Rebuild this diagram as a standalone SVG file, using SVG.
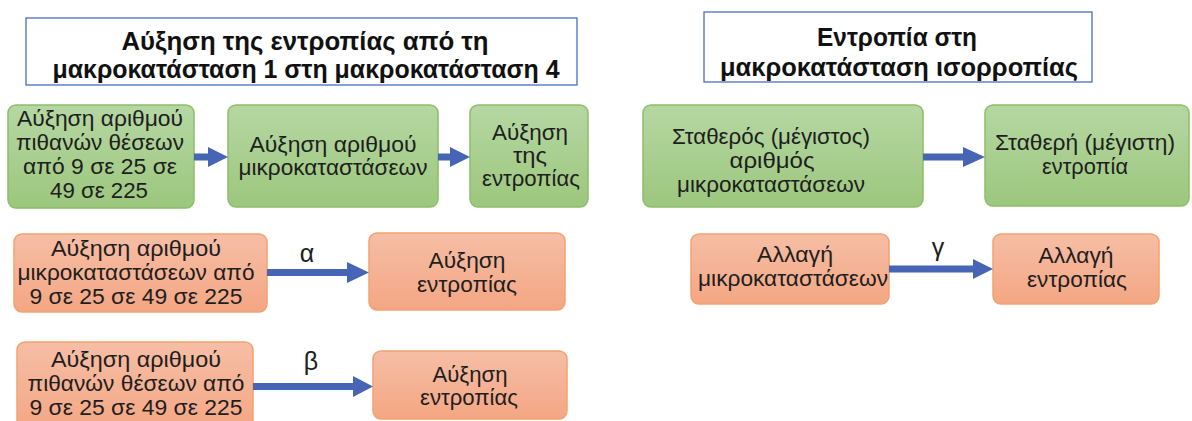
<svg xmlns="http://www.w3.org/2000/svg" width="1192" height="421" viewBox="0 0 1192 421">
<defs>
<linearGradient id="gG" x1="0" y1="0" x2="0" y2="1"><stop offset="0" stop-color="#b6d7a3"/><stop offset="1" stop-color="#9cc77d"/></linearGradient>
<linearGradient id="gO" x1="0" y1="0" x2="0" y2="1"><stop offset="0" stop-color="#f6bea6"/><stop offset="1" stop-color="#f4a683"/></linearGradient>
<style>
.t{font-family:"Liberation Sans",Arial,sans-serif;font-size:22px;fill:#1e1e1e;text-anchor:middle}
.h{font-family:"Liberation Sans",Arial,sans-serif;font-size:25px;font-weight:bold;fill:#111;text-anchor:middle}
.l{font-family:"Liberation Sans",Arial,sans-serif;font-size:25px;fill:#1e1e1e;text-anchor:middle}
.g{fill:url(#gG);stroke:#8cbf68;stroke-width:1.5}
.o{fill:url(#gO);stroke:#f2a271;stroke-width:1.5}
.ti{fill:#fff;stroke:#4a6cc2;stroke-width:1.3}
.a{fill:#4665b5}
</style>
</defs>
<rect width="1192" height="421" fill="#fff"/>
<g id="title1"><rect class="ti" x="26" y="18" width="551" height="67"/>
<text class="h" x="305" y="50" textLength="367" lengthAdjust="spacingAndGlyphs">Αύξηση της εντροπίας από τη</text>
<text class="h" x="306" y="78" textLength="507" lengthAdjust="spacingAndGlyphs">μακροκατάσταση 1 στη μακροκατάσταση 4</text></g>
<g id="title2"><rect class="ti" x="704" y="12" width="388" height="70"/>
<text class="h" x="897" y="46" textLength="160" lengthAdjust="spacingAndGlyphs">Εντροπία στη</text>
<text class="h" x="899" y="76" textLength="358" lengthAdjust="spacingAndGlyphs">μακροκατάσταση ισορροπίας</text></g>
<g id="g1"><rect class="g" x="8" y="105" width="186" height="103" rx="8"/>
<text class="t" x="100" y="126" textLength="166" lengthAdjust="spacingAndGlyphs">Αύξηση αριθμού</text>
<text class="t" x="100" y="150" textLength="168" lengthAdjust="spacingAndGlyphs">πιθανών θέσεων</text>
<text class="t" x="100" y="174" textLength="154" lengthAdjust="spacingAndGlyphs">από 9 σε 25 σε</text>
<text class="t" x="99" y="198" textLength="98" lengthAdjust="spacingAndGlyphs">49 σε 225</text></g>
<g id="g2"><rect class="g" x="228" y="105" width="210" height="102" rx="8"/>
<text class="t" x="333" y="152" textLength="167" lengthAdjust="spacingAndGlyphs">Αύξηση αριθμού</text>
<text class="t" x="333" y="175" textLength="189" lengthAdjust="spacingAndGlyphs">μικροκαταστάσεων</text></g>
<g id="g3"><rect class="g" x="470" y="105" width="118" height="102" rx="8"/>
<text class="t" x="530" y="140" textLength="76" lengthAdjust="spacingAndGlyphs">Αύξηση</text>
<text class="t" x="530" y="163" textLength="34" lengthAdjust="spacingAndGlyphs">της</text>
<text class="t" x="531" y="186" textLength="98" lengthAdjust="spacingAndGlyphs">εντροπίας</text></g>
<g id="o1"><rect class="o" x="14" y="234" width="253" height="78" rx="8"/>
<text class="t" x="136" y="256" textLength="170" lengthAdjust="spacingAndGlyphs">Αύξηση αριθμού</text>
<text class="t" x="136" y="280" textLength="237" lengthAdjust="spacingAndGlyphs">μικροκαταστάσεων από</text>
<text class="t" x="136" y="304" textLength="213" lengthAdjust="spacingAndGlyphs">9 σε 25 σε 49 σε 225</text></g>
<g id="o2"><rect class="o" x="369" y="233" width="196" height="77" rx="8"/>
<text class="t" x="467" y="268" textLength="77" lengthAdjust="spacingAndGlyphs">Αύξηση</text>
<text class="t" x="467" y="292" textLength="100" lengthAdjust="spacingAndGlyphs">εντροπίας</text></g>
<g id="o3"><rect class="o" x="17" y="342" width="236" height="90" rx="8"/>
<text class="t" x="136" y="367" textLength="170" lengthAdjust="spacingAndGlyphs">Αύξηση αριθμού</text>
<text class="t" x="136" y="391" textLength="217" lengthAdjust="spacingAndGlyphs">πιθανών θέσεων από</text>
<text class="t" x="136" y="415" textLength="213" lengthAdjust="spacingAndGlyphs">9 σε 25 σε 49 σε 225</text></g>
<g id="o4"><rect class="o" x="373" y="351" width="194" height="68" rx="8"/>
<text class="t" x="470" y="382" textLength="75" lengthAdjust="spacingAndGlyphs">Αύξηση</text>
<text class="t" x="469" y="405" textLength="98" lengthAdjust="spacingAndGlyphs">εντροπίας</text></g>
<g id="gr1"><rect class="g" x="643" y="105" width="280" height="102" rx="8"/>
<text class="t" x="771" y="144" textLength="198" lengthAdjust="spacingAndGlyphs">Σταθερός (μέγιστος)</text>
<text class="t" x="772" y="168" textLength="85" lengthAdjust="spacingAndGlyphs">αριθμός</text>
<text class="t" x="771" y="192" textLength="188" lengthAdjust="spacingAndGlyphs">μικροκαταστάσεων</text></g>
<g id="gr2"><rect class="g" x="985" y="105" width="204" height="101" rx="8"/>
<text class="t" x="1085" y="150" textLength="180" lengthAdjust="spacingAndGlyphs">Σταθερή (μέγιστη)</text>
<text class="t" x="1085" y="174" textLength="86" lengthAdjust="spacingAndGlyphs">εντροπία</text></g>
<g id="or1"><rect class="o" x="691" y="234" width="198" height="70" rx="8"/>
<text class="t" x="795" y="262" textLength="76" lengthAdjust="spacingAndGlyphs">Αλλαγή</text>
<text class="t" x="793" y="286" textLength="190" lengthAdjust="spacingAndGlyphs">μικροκαταστάσεων</text></g>
<g id="or2"><rect class="o" x="993" y="234" width="166" height="70" rx="8"/>
<text class="t" x="1076" y="263" textLength="75" lengthAdjust="spacingAndGlyphs">Αλλαγή</text>
<text class="t" x="1077" y="287" textLength="100" lengthAdjust="spacingAndGlyphs">εντροπίας</text></g>
<g id="connectors">
<polygon class="a" points="194,153.5 208,153.5 208,147 228,157 208,167 208,160.5 194,160.5"/>
<polygon class="a" points="438,153.5 450,153.5 450,147 470,157 450,167 450,160.5 438,160.5"/>
<polygon class="a" points="267,269 347,269 347,262 369,272.5 347,283 347,276 267,276"/>
<polygon class="a" points="253,383 353,383 353,376 373,386.5 353,397 353,390 253,390"/>
<polygon class="a" points="923,153.5 963,153.5 963,147 985,157 963,167 963,160.5 923,160.5"/>
<polygon class="a" points="889,265.5 973,265.5 973,259 993,269 973,279 973,272.5 889,272.5"/>
<text class="l" x="307" y="262">α</text>
<text class="l" x="311" y="370">β</text>
<text class="l" x="938" y="256">γ</text>
</g>
</svg>
